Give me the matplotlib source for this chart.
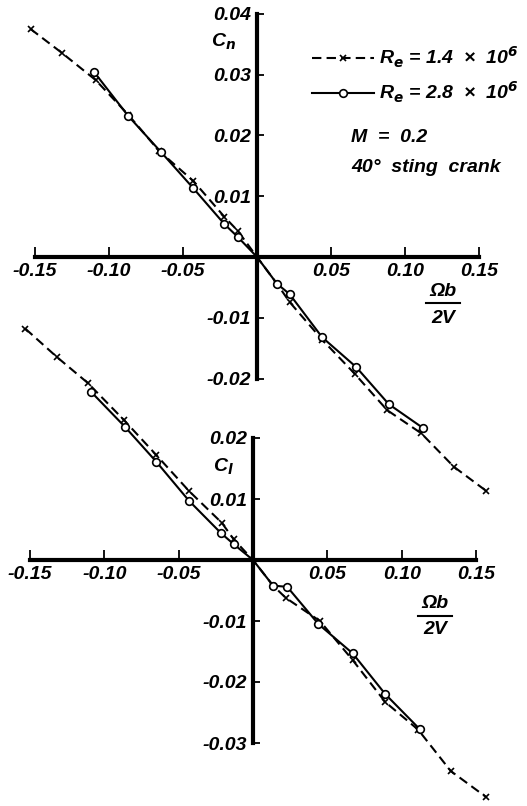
import matplotlib
matplotlib.use('Agg')
import matplotlib.pyplot as plt
from matplotlib.lines import Line2D
from matplotlib.ticker import FormatStrFormatter

# yawing-moment coefficient, Re = 1.4e6 (crosses, dashed)
cn_x_lo = [-0.153, -0.132, -0.109, -0.087, -0.066, -0.043, -0.022, -0.013, 0.0,
           0.0135, 0.022, 0.044, 0.066, 0.088, 0.111, 0.133, 0.155]
cn_lo = [0.0375, 0.0336, 0.0291, 0.0234, 0.0174, 0.0125, 0.0066, 0.0043, 0.0,
         -0.0044, -0.0074, -0.0136, -0.0192, -0.0252, -0.0290, -0.0345, -0.0385]
# yawing-moment coefficient, Re = 2.8e6 (circles, solid)
cn_x_hi = [-0.110, -0.087, -0.065, -0.043, -0.022, -0.013, 0.0,
           0.0135, 0.022, 0.044, 0.067, 0.089, 0.112]
cn_hi = [0.0304, 0.0232, 0.0173, 0.0113, 0.0054, 0.0033, 0.0,
         -0.0044, -0.0061, -0.0132, -0.0181, -0.0242, -0.0281]

# rolling-moment coefficient
cl_x_lo = [-0.153, -0.132, -0.111, -0.087, -0.065, -0.043, -0.021, -0.013, 0.0,
           0.0135, 0.022, 0.045, 0.067, 0.089, 0.111, 0.133, 0.157]
cl_lo = [0.0379, 0.0333, 0.0290, 0.0230, 0.0172, 0.0113, 0.0061, 0.0034, 0.0,
         -0.0042, -0.0062, -0.0100, -0.0164, -0.0233, -0.0278, -0.0346, -0.0389]
cl_x_hi = [-0.109, -0.086, -0.065, -0.043, -0.0215, -0.013, 0.0,
           0.0135, 0.023, 0.044, 0.067, 0.089, 0.112]
cl_hi = [0.0276, 0.0218, 0.0161, 0.0097, 0.0044, 0.0026, 0.0,
         -0.0042, -0.0044, -0.0105, -0.0153, -0.0220, -0.0277]

x_ticks = [-0.15, -0.10, -0.05, 0.05, 0.10, 0.15]
cn_ticks = [-0.02, -0.01, 0.01, 0.02, 0.03, 0.04]
cl_ticks = [-0.03, -0.02, -0.01, 0.01, 0.02]

label_lo = r'R$_e$ = 1.4  ×  10$^6$'
label_hi = r'R$_e$ = 2.8  ×  10$^6$'

NARROW = 'Liberation Sans Narrow'
plt.rcParams['font.family'] = [NARROW, 'Liberation Sans', 'DejaVu Sans']
plt.rcParams['font.style'] = 'italic'
plt.rcParams['font.weight'] = 'bold'
plt.rcParams['font.size'] = 14
plt.rcParams['axes.unicode_minus'] = False
plt.rcParams['mathtext.fontset'] = 'custom'
plt.rcParams['mathtext.it'] = NARROW + ':italic:bold'
plt.rcParams['mathtext.rm'] = NARROW + ':italic:bold'

W, H = 527, 806
fig = plt.figure(figsize=(W / 100, H / 100), dpi=100)


def fx(px):
    return px / W


def fy(py):
    return 1 - py / H


def make_axes(origin, scale, ybounds, yticks):
    # axes fill the whole figure; limits put the origin at a pixel position
    ax = fig.add_axes([0, 0, 1, 1])
    ax.patch.set_visible(False)
    ox, oy = origin
    sx, sy = scale
    ax.set_xlim(-ox / sx, (W - ox) / sx)
    ax.set_ylim((oy - H) / sy, oy / sy)
    for side in ('top', 'right'):
        ax.spines[side].set_visible(False)
    ax.spines['left'].set_position(('data', 0))
    ax.spines['bottom'].set_position(('data', 0))
    ax.spines['left'].set_bounds(*ybounds)
    ax.spines['bottom'].set_bounds(-0.15, 0.15)
    for side in ('left', 'bottom'):
        ax.spines[side].set_linewidth(3)
        ax.spines[side].set_capstyle('projecting')
    ax.set_xticks(x_ticks)
    ax.set_yticks(yticks)
    ax.xaxis.set_major_formatter(FormatStrFormatter('%.2f'))
    ax.yaxis.set_major_formatter(FormatStrFormatter('%.2f'))
    ax.tick_params(axis='x', direction='in', length=7, width=1.3, pad=4,
                   labelsize=14)
    ax.tick_params(axis='y', direction='in', length=5, width=1.3, pad=4,
                   labelsize=14)
    return ax


def plot_pair(ax, xl, yl, xh, yh):
    lo_marks = [i for i, v in enumerate(xl) if v != 0]
    hi_marks = [i for i, v in enumerate(xh) if v != 0]
    l1, = ax.plot(xl, yl, color='black', lw=1.5, ls=(0, (4.5, 2.5)),
                  marker='x', ms=4.5, mew=1.2, markevery=lo_marks,
                  label=label_lo, clip_on=False, zorder=3)
    l2, = ax.plot(xh, yh, color='black', lw=1.5, ls='-',
                  marker='o', ms=5.5, mew=1.2, mfc='white', markevery=hi_marks,
                  label=label_hi, clip_on=False, zorder=4)
    return l1, l2


def omega_label(cx, y_top, y_bar, y_bot, half):
    fig.text(fx(cx), fy(y_top), 'Ωb', ha='center', va='center')
    fig.add_artist(Line2D([fx(cx - half), fx(cx + half)], [fy(y_bar), fy(y_bar)],
                          color='black', lw=1.5))
    fig.text(fx(cx), fy(y_bot), '2V', ha='center', va='center')


ax_n = make_axes((257, 257), (1480, 6080), (-0.02, 0.04), cn_ticks)
ax_l = make_axes((253, 560), (1487, 6100), (-0.03, 0.02), cl_ticks)

h_lo, h_hi = plot_pair(ax_n, cn_x_lo, cn_lo, cn_x_hi, cn_hi)
plot_pair(ax_l, cl_x_lo, cl_lo, cl_x_hi, cl_hi)

fig.text(fx(236), fy(42), r'C$_n$', ha='right', va='center')
fig.text(fx(234), fy(467), r'C$_l$', ha='right', va='center')
omega_label(443, 291, 303, 318, 17)
omega_label(435, 603, 616, 629, 17)

ax_n.legend(handles=[h_lo, h_hi], loc='upper left', frameon=False,
            bbox_to_anchor=(fx(312), fy(45)), bbox_transform=fig.transFigure,
            handlelength=3.2, handletextpad=0.25, labelspacing=0.5,
            numpoints=1, borderpad=0, borderaxespad=0)

fig.text(fx(351), fy(137), 'M  =  0.2', ha='left', va='center')
fig.text(fx(351), fy(168), '40°  sting  crank', ha='left', va='center')

fig.savefig('out.png', dpi=100)
